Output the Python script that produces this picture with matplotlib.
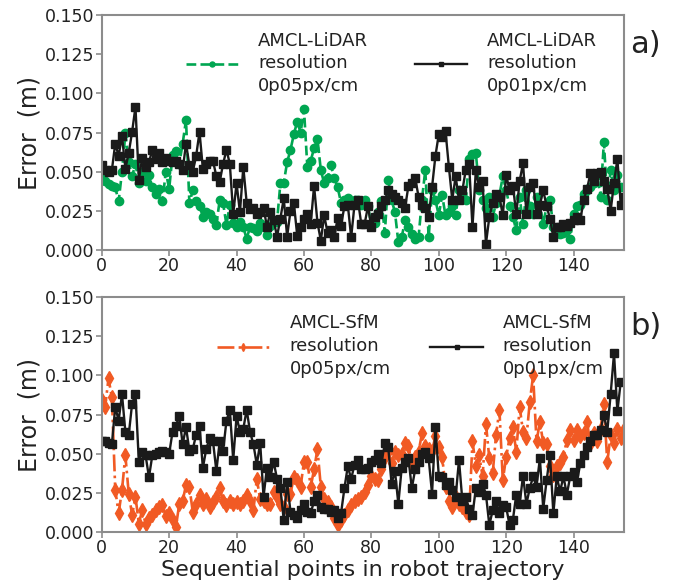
import numpy as np
import matplotlib.pyplot as plt

# ---- panel a) AMCL-LiDAR ----
lidar_005 = [
    0.046, 0.044, 0.042, 0.041, 0.040, 0.031, 0.050, 0.0745, 0.056, 0.047,
    0.055, 0.043, 0.050, 0.044, 0.048, 0.040, 0.036, 0.039, 0.031, 0.050,
    0.039, 0.0606, 0.063, 0.055, 0.068, 0.083, 0.030, 0.038, 0.031, 0.028,
    0.0213, 0.024, 0.023, 0.020, 0.016, 0.032, 0.030, 0.016, 0.029, 0.0175,
    0.0145, 0.018, 0.0145, 0.007, 0.0149, 0.014, 0.012, 0.0175, 0.0149, 0.0095,
    0.015, 0.019, 0.018, 0.0426, 0.043, 0.056, 0.064, 0.074, 0.082, 0.075,
    0.090, 0.053, 0.057, 0.065, 0.071, 0.051, 0.0426, 0.046, 0.054, 0.046,
    0.040, 0.030, 0.032, 0.033, 0.031, 0.032, 0.032, 0.029, 0.032, 0.028,
    0.0155, 0.0175, 0.024, 0.031, 0.011, 0.0447, 0.032, 0.024, 0.005, 0.008,
    0.019, 0.0145, 0.010, 0.007, 0.008, 0.032, 0.051, 0.008, 0.038, 0.032,
    0.022, 0.035, 0.022, 0.024, 0.028, 0.022, 0.038, 0.036, 0.032, 0.058,
    0.061, 0.062, 0.038, 0.032, 0.027, 0.034, 0.021, 0.030, 0.035, 0.047,
    0.038, 0.028, 0.021, 0.0125, 0.034, 0.0166, 0.038, 0.028, 0.023, 0.034,
    0.029, 0.0166, 0.028, 0.032, 0.0145, 0.0125, 0.010, 0.011, 0.0125, 0.007,
    0.023, 0.028, 0.029, 0.036, 0.038, 0.040, 0.0426, 0.048, 0.034, 0.069,
    0.032, 0.051, 0.038, 0.048, 0.040,
]
lidar_001 = [
    0.054, 0.051, 0.050, 0.051, 0.068, 0.060, 0.073, 0.052, 0.062, 0.0755,
    0.0915, 0.0447, 0.059, 0.053, 0.056, 0.064, 0.058, 0.062, 0.056, 0.059,
    0.057, 0.056, 0.057, 0.055, 0.051, 0.068, 0.054, 0.050, 0.060, 0.0755,
    0.052, 0.055, 0.057, 0.057, 0.047, 0.0436, 0.055, 0.064, 0.055, 0.023,
    0.0426, 0.024, 0.053, 0.030, 0.026, 0.027, 0.023, 0.024, 0.027, 0.0149,
    0.024, 0.019, 0.0085, 0.020, 0.033, 0.0085, 0.025, 0.030, 0.009, 0.0145,
    0.020, 0.023, 0.0166, 0.041, 0.0175, 0.006, 0.022, 0.011, 0.0125, 0.008,
    0.0206, 0.0155, 0.028, 0.029, 0.008, 0.029, 0.032, 0.0166, 0.0166, 0.028,
    0.0145, 0.021, 0.023, 0.028, 0.032, 0.038, 0.036, 0.034, 0.032, 0.030,
    0.027, 0.041, 0.0426, 0.046, 0.034, 0.029, 0.027, 0.021, 0.040, 0.060,
    0.074, 0.072, 0.076, 0.053, 0.032, 0.047, 0.032, 0.038, 0.051, 0.055,
    0.0145, 0.051, 0.040, 0.044, 0.004, 0.021, 0.030, 0.036, 0.034, 0.022,
    0.048, 0.038, 0.041, 0.023, 0.044, 0.0555, 0.023, 0.040, 0.043, 0.023,
    0.029, 0.038, 0.028, 0.020, 0.008, 0.0145, 0.0145, 0.0166, 0.0155, 0.0175,
    0.019, 0.021, 0.019, 0.032, 0.039, 0.049, 0.044, 0.049, 0.050, 0.044,
    0.039, 0.025, 0.043, 0.058, 0.029, 0.034,
]

# ---- panel b) AMCL-SfM ----
sfm_005 = [
    0.084, 0.080, 0.098, 0.086, 0.027, 0.012, 0.027, 0.049, 0.0246, 0.011,
    0.0225, 0.0055, 0.014, 0.0055, 0.0087, 0.011, 0.014, 0.016, 0.017, 0.010,
    0.012, 0.0077, 0.0034, 0.018, 0.020, 0.030, 0.029, 0.013, 0.018, 0.0236,
    0.018, 0.021, 0.016, 0.019, 0.0225, 0.028, 0.020, 0.017, 0.020, 0.018,
    0.019, 0.018, 0.020, 0.0236, 0.020, 0.014, 0.034, 0.021, 0.020, 0.018,
    0.018, 0.0257, 0.0225, 0.018, 0.016, 0.0246, 0.0246, 0.035, 0.033, 0.029,
    0.045, 0.045, 0.029, 0.040, 0.053, 0.029, 0.021, 0.019, 0.016, 0.0087,
    0.0045, 0.0077, 0.011, 0.014, 0.017, 0.020, 0.021, 0.0225, 0.0257, 0.030,
    0.036, 0.034, 0.033, 0.040, 0.048, 0.051, 0.044, 0.051, 0.049, 0.050,
    0.057, 0.055, 0.043, 0.048, 0.051, 0.063, 0.055, 0.053, 0.052, 0.061,
    0.054, 0.048, 0.029, 0.020, 0.016, 0.0225, 0.018, 0.016, 0.013, 0.011,
    0.058, 0.042, 0.049, 0.0355, 0.069, 0.047, 0.0375, 0.062, 0.078, 0.033,
    0.048, 0.060, 0.067, 0.051, 0.080, 0.064, 0.060, 0.083, 0.100, 0.058,
    0.070, 0.057, 0.056, 0.042, 0.0365, 0.042, 0.044, 0.048, 0.059, 0.065,
    0.059, 0.065, 0.061, 0.063, 0.070, 0.056, 0.063, 0.058, 0.066, 0.082,
    0.0445, 0.062, 0.057, 0.066, 0.060, 0.066,
]
sfm_001 = [
    0.058, 0.058, 0.057, 0.056, 0.080, 0.071, 0.088, 0.064, 0.062, 0.082,
    0.088, 0.045, 0.051, 0.049, 0.035, 0.049, 0.050, 0.051, 0.052, 0.051,
    0.050, 0.064, 0.068, 0.074, 0.056, 0.067, 0.052, 0.053, 0.062, 0.068,
    0.041, 0.053, 0.060, 0.058, 0.039, 0.058, 0.052, 0.071, 0.078, 0.046,
    0.074, 0.064, 0.066, 0.078, 0.064, 0.056, 0.043, 0.057, 0.0225, 0.041,
    0.035, 0.045, 0.034, 0.028, 0.0077, 0.032, 0.013, 0.011, 0.0087, 0.014,
    0.018, 0.013, 0.012, 0.020, 0.0236, 0.016, 0.015, 0.015, 0.013, 0.014,
    0.0087, 0.012, 0.028, 0.042, 0.034, 0.043, 0.046, 0.040, 0.040, 0.041,
    0.045, 0.046, 0.050, 0.044, 0.057, 0.054, 0.031, 0.039, 0.018, 0.041,
    0.045, 0.047, 0.028, 0.040, 0.045, 0.050, 0.051, 0.047, 0.0246, 0.067,
    0.036, 0.035, 0.030, 0.032, 0.027, 0.0225, 0.046, 0.020, 0.0225, 0.015,
    0.011, 0.028, 0.0257, 0.031, 0.024, 0.0045, 0.014, 0.020, 0.012, 0.017,
    0.016, 0.0045, 0.008, 0.024, 0.018, 0.036, 0.018, 0.028, 0.0355, 0.029,
    0.047, 0.015, 0.033, 0.049, 0.012, 0.0355, 0.026, 0.0355, 0.024, 0.0355,
    0.0385, 0.032, 0.044, 0.049, 0.054, 0.058, 0.062, 0.062, 0.065, 0.075,
    0.064, 0.088, 0.114, 0.077, 0.096,
]

GREEN = '#00a651'
ORANGE = '#f15a24'
BLACK = '#1a1a1a'
SPINE = '#8c8c8c'
TEXT = '#222222'

fig = plt.figure(figsize=(6.74, 5.88), dpi=100)
ax_a = fig.add_axes([0.151, 0.575, 0.775, 0.399])
ax_b = fig.add_axes([0.151, 0.095, 0.775, 0.400])

ax_a.plot(np.arange(len(lidar_005)), lidar_005, '--', color=GREEN, marker='o',
          ms=6, lw=1.9, label='AMCL-LiDAR\nresolution\n0p05px/cm')
ax_a.plot(np.arange(len(lidar_001)), lidar_001, '-', color=BLACK, marker='s',
          ms=6, lw=1.7, label='AMCL-LiDAR\nresolution\n0p01px/cm')

ax_b.plot(np.arange(len(sfm_005)), sfm_005, '-.', color=ORANGE, marker='d',
          ms=7, lw=1.9, label='AMCL-SfM\nresolution\n0p05px/cm')
ax_b.plot(np.arange(len(sfm_001)), sfm_001, '-', color=BLACK, marker='s',
          ms=6, lw=1.7, label='AMCL-SfM\nresolution\n0p01px/cm')

# legend anchor (axes fraction) and column spacing per panel
for ax, tag, anchor, colsp in [(ax_a, 'a)', (0.13, 1.0), 2.6),
                               (ax_b, 'b)', (0.19, 0.995), 2.2)]:
    ax.set_xlim(0, 155)
    ax.set_ylim(0, 0.15)
    yt = np.arange(0, 0.151, 0.025)
    ax.set_yticks(yt)
    ax.set_yticklabels(['%.3f' % v for v in yt])
    ax.set_xticks(np.arange(0, 141, 20))
    for s in ax.spines.values():
        s.set_color(SPINE)
        s.set_linewidth(1.5)
    ax.tick_params(colors=SPINE, labelcolor=TEXT, labelsize=12.5,
                   length=4, width=1.2, pad=1)
    ax.set_ylabel('Error  (m)', fontsize=17, color=TEXT, labelpad=3)
    leg = ax.legend(loc='upper left', bbox_to_anchor=anchor, ncol=2, frameon=False,
                    fontsize=13, markerscale=0.6, handlelength=2.9,
                    handletextpad=1.1, columnspacing=colsp, labelspacing=0.3)
    for t in leg.get_texts():
        t.set_linespacing(1.35)
        t.set_color(TEXT)
    ax.text(1.012, 0.875, tag, transform=ax.transAxes, fontsize=22,
            va='center', ha='left', color=TEXT)

ax_b.set_xlabel('Sequential points in robot trajectory', fontsize=16,
                color=TEXT, labelpad=2)

fig.savefig('out.png', dpi=100)
